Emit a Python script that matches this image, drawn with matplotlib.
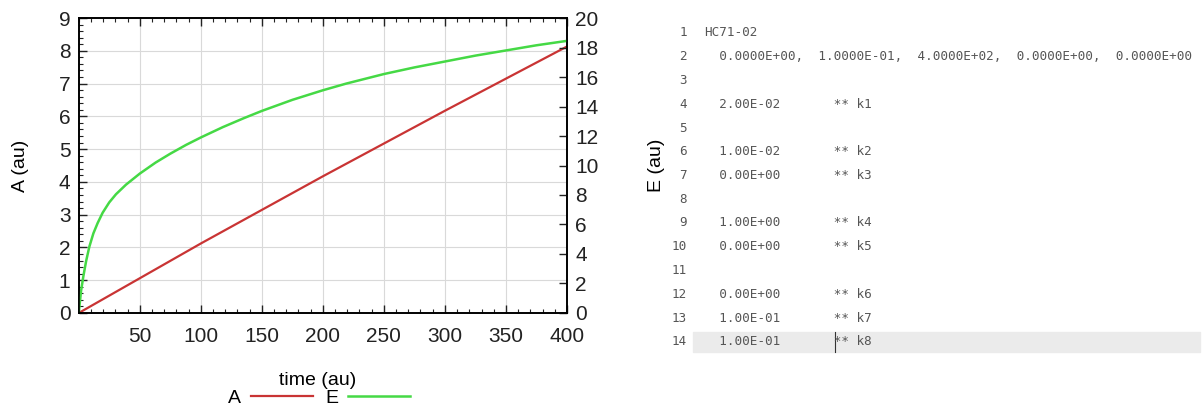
import numpy as np
import matplotlib.pyplot as plt
from matplotlib.ticker import MultipleLocator

# time axis samples (au)
t_A = [0, 100, 200, 300, 400]
A = [0.0, 2.12, 4.17, 6.17, 8.13]

t_E = [0, 1.9, 3.8, 6, 8.7, 12, 15.5, 19.6, 25, 30.5, 38.7, 50, 63, 75, 88, 100,
       118, 135, 150, 175, 200, 219, 250, 275, 300, 325, 350, 375, 400]
E = [0.0, 1.5, 2.5, 3.5, 4.5, 5.4, 6.1, 6.8, 7.5, 8.05, 8.7, 9.45, 10.2, 10.8, 11.4, 11.9,
     12.6, 13.2, 13.7, 14.45, 15.1, 15.55, 16.2, 16.65, 17.05, 17.45, 17.8, 18.15, 18.45]

xticks = [50, 100, 150, 200, 250, 300, 350, 400]
yticks_A = list(range(0, 10))
yticks_E = list(range(0, 21, 2))

# input file listing shown next to the plot
line_no = [str(i) for i in range(1, 15)]
line_txt = [
    "HC71-02",
    "  0.0000E+00,  1.0000E-01,  4.0000E+02,  0.0000E+00,  0.0000E+00",
    "",
    "  2.00E-02       ** k1",
    "",
    "  1.00E-02       ** k2",
    "  0.00E+00       ** k3",
    "",
    "  1.00E+00       ** k4",
    "  0.00E+00       ** k5",
    "",
    "  0.00E+00       ** k6",
    "  1.00E-01       ** k7",
    "  1.00E-01       ** k8",
]

plt.rcParams['font.family'] = ['Liberation Sans', 'DejaVu Sans']

fig = plt.figure(figsize=(12.04, 4.12), dpi=100)
ax = fig.add_axes([0.0654, 0.2403, 0.4055, 0.716])
ax2 = ax.twinx()

red = '#c93434'
green = '#45d945'
lA, = ax.plot(t_A, A, color=red, lw=1.6, label='A')
lE, = ax2.plot(t_E, E, color=green, lw=1.8, label='E')

ax.set_xlim(0, 400)
ax.set_ylim(0, 9)
ax2.set_ylim(0, 20)
ax.set_xticks(xticks)
ax.set_yticks(yticks_A)
ax2.set_yticks(yticks_E)
ax.xaxis.set_minor_locator(MultipleLocator(10))
ax.yaxis.set_minor_locator(MultipleLocator(0.2))

ax.grid(True, which='major', color='#d9d9d9', lw=0.8)
ax.set_axisbelow(True)

for a in (ax, ax2):
    a.tick_params(which='both', direction='in', labelsize=15, colors='#222222')
    a.tick_params(which='major', length=6, width=1)
    a.tick_params(which='minor', length=3, width=0.8)
    for s in a.spines.values():
        s.set_linewidth(1.2)
ax.tick_params(axis='x', which='both', top=True, pad=10)
ax.tick_params(axis='y', which='both', pad=6)
ax2.tick_params(axis='y', which='both', pad=6)

ax.set_ylabel('A (au)', fontsize=14)
ax.yaxis.set_label_coords(-0.102, 0.5)
ax2.set_ylabel('E (au)', fontsize=14)
ax2.yaxis.set_label_coords(1.167, 0.5)
ax.set_xlabel('time (au)', fontsize=14)
ax.xaxis.set_label_coords(0.49, -0.2)

fig.legend(handles=[lA, lE], loc='center', bbox_to_anchor=(0.265, 0.034),
           ncol=2, frameon=False, markerfirst=False, fontsize=14,
           handlelength=3.2, handletextpad=0.5, columnspacing=0.6)

# editor panel
y0 = 1 - 33 / 412
dy = 23.75 / 412
fig.patches.append(plt.Rectangle((693 / 1204, y0 - 13 * dy - 10 / 412), 507 / 1204, 20 / 412,
                                 transform=fig.transFigure, color='#ebebeb', zorder=0))
for i, (n, s) in enumerate(zip(line_no, line_txt)):
    y = y0 - i * dy
    fig.text(687 / 1204, y, n, ha='right', va='center', family='DejaVu Sans Mono',
             fontsize=9.1, color='#555555')
    fig.text(704 / 1204, y, s, ha='left', va='center', family='DejaVu Sans Mono',
             fontsize=9.1, color='#555555')
fig.lines.append(plt.Line2D([835 / 1204, 835 / 1204], [y0 - 13 * dy - 10 / 412, y0 - 13 * dy + 10 / 412],
                            transform=fig.transFigure, color='#333333', lw=0.8))

fig.savefig('out.png', dpi=100)
